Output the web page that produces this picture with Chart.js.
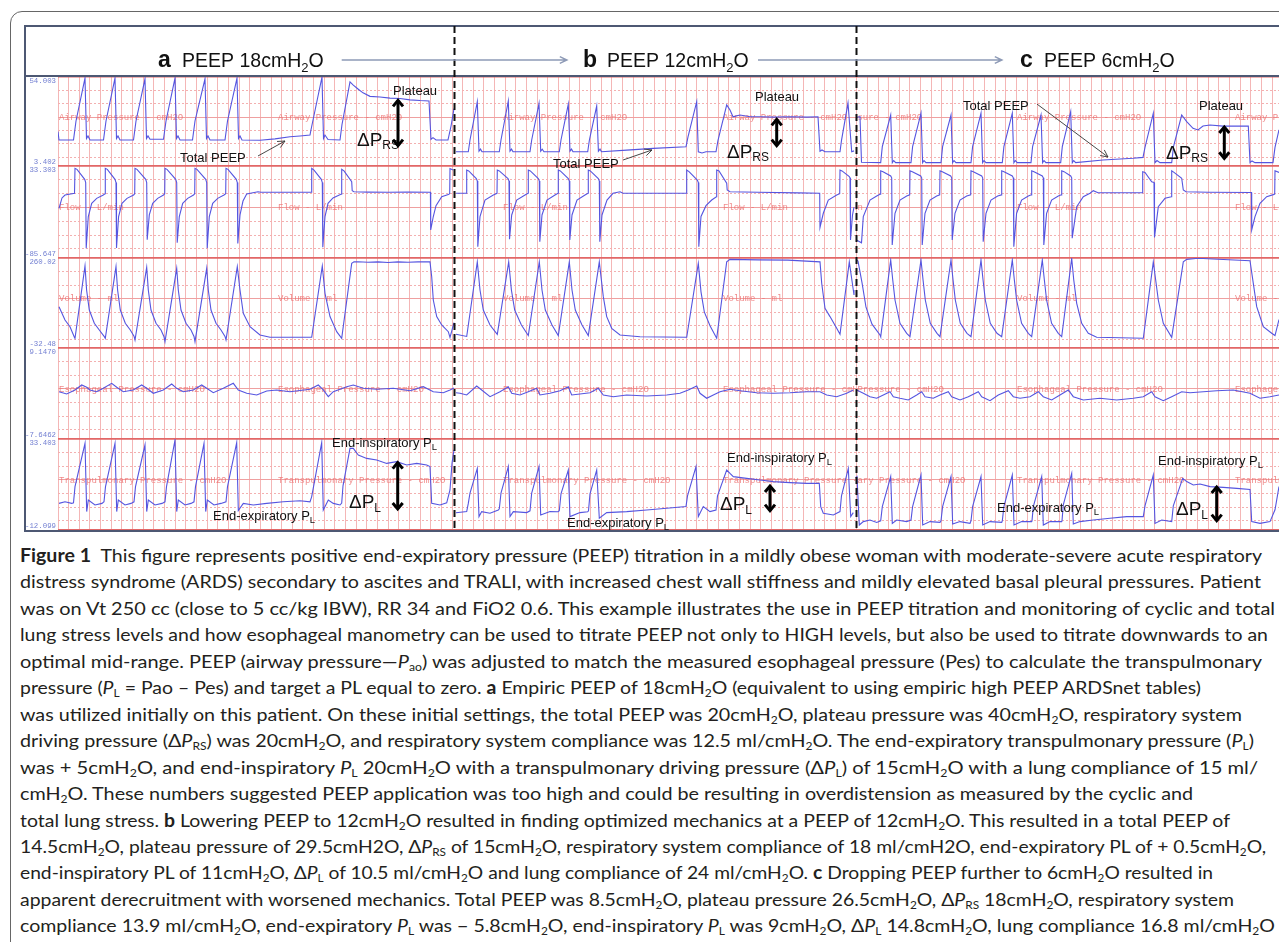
<!DOCTYPE html>
<html>
<head>
<meta charset="utf-8">
<script src="https://cdn.jsdelivr.net/npm/chart.js@4.4.1/dist/chart.umd.min.js"></script>
<style>
  body { margin: 0; background: #fff; }
  #wrap { position: relative; width: 1279px; height: 942px; overflow: hidden; }
  #frame { position: absolute; left: 10px; top: 11px; width: 1320px; height: 980px;
           border: 1.5px solid #666; border-radius: 12px; box-sizing: border-box; }
  #chart { position: absolute; left: 0; top: 0; }
  .cap { position: absolute; left: 20px; white-space: nowrap; font-family: Lato, "Noto Sans", sans-serif;
         font-size: 18px; line-height: 26px; color: #231f20; transform-origin: 0 50%; }
  .cap sub { font-size: 11px; vertical-align: -3px; line-height: 0; }
</style>
</head>
<body>
<div id="wrap">
  <div id="frame"></div>
  <canvas id="chart" width="1279" height="540"></canvas>
</div>
<script>
// ---- axis ranges and tick labels (as printed on the recorder strips) ----
const stripIds = ['yAw', 'yFlow', 'yVol', 'yEso', 'yPtp'];
const stripMax = [54.003, 33.303, 260.02, 9.147, 33.403];
const stripMin = [3.402, -85.647, -32.48, -7.6462, -12.099];
const stripTopLabels = ['54.003', '33.303', '260.02', '9.1470', '33.403'];
const stripBottomLabels = ['3.402', '-85.647', '-32.48', '-7.6462', '-12.099'];
const channelNames = ['Airway Pressure - cmH2O', 'Flow - L/min', 'Volume - ml',
                      'Esophageal Pressure - cmH2O', 'Transpulmonary Pressure - cmH2O'];
const panelTitles = [['a', 'PEEP 18cmH', '2', 'O'], ['b', 'PEEP 12cmH', '2', 'O'], ['c', 'PEEP 6cmH', '2', 'O']];

// ---- waveforms, [time (samples), value] ----
const airwayA = [[0,23],[1,18.2],[15.5,18.2],[18,29],[27,53.4],[28.5,19],[30,20.5],[32,18.2],
  [45.5,18.2],[48,29],[57,53.4],[58.5,19],[60,20.5],[62,18.2],
  [75.5,18.2],[78,29],[87,53],[88.5,19],[90,20.5],[92,18.6],
  [105.5,18.6],[108,29],[117,53.4],[118.5,19],[120,20.5],[122,18.2],
  [134.5,18.2],[137,29],[147,53],[148.5,19],[150,20.5],[152,18.2],
  [167,18.2],[169.5,29],[179,53.4],[180.5,19],[182,20.5],[184,18.2],
  [202,18],[217,18.8],[232,20],[242,20.5],[252,21],
  [253,24],[264,54],[265.5,19],[267,21],[270,18.5],[282,18.2],
  [284,27],[292,51.2],[295,49.5],[300,47.2],[305,45],[312,43],[322,42.6],[332,42],[342,41.8],[352,41],
  [362,40.6],[371,40.4],[373,18.5],[375,19.5],[378,18.2],[390,18.2],[393,26],[396,36]];
const airwayB = [[398,11.5],[410.3,11.5],[412,18.2],[419.3,40],[421,11.8],[422.5,13],[424,11.5],
  [441.3,11.5],[443,18.2],[450.3,40.4],[452,11.8],[453.5,13],[455,11.5],
  [472,11.5],[473.7,18.2],[481,39],[482.7,11.8],[484.2,13],[486,11.5],
  [501.3,11.5],[503,18.2],[510.3,38.6],[512,11.8],[513.5,13],[515,11.5],
  [529.7,11.5],[531.4,18.2],[538.7,37.5],[540.4,11.8],[542,13],[543.5,11.5],
  [568.7,12.4],[595.3,13.4],[628,14.3],
  [630,20],[638.7,40],[640.3,11.5],[644,10.8],[648,11.5],[658,11.5],
  [660,18],[668.7,38.1],[672,35.2],[675,31.4],[682,32.4],[692,31.4],[702,31.4],[715,31.2],[732,31.4],
  [749,31.2],[760,31.4],[762,11.8],[764,12.5],[767,11.5],[782,11.5],
  [783.5,18],[790,39.2],[793.7,11.5],[796,12]];
const airwayC = [[798,31],[802,31.5],[803.5,5.5],[822.7,5.3],[824.3,14.4],[832.7,32.4],[834.3,5.3],[835.7,6.5],[837.7,5.3],
  [853,5.3],[854.6,14.4],[863,33.4],[864.6,5.3],[866,6.5],[868,5.3],
  [883,5.3],[884.6,14.4],[893,32.4],[894.6,5.3],[896,6.5],[898,5.3],
  [913,5.3],[914.6,14.4],[923,33.4],[924.6,5.3],[926,6.5],[928,5.3],
  [944.3,5.3],[945.9,14.4],[954.3,33.4],[955.9,5.3],[957.3,6.5],[959.3,5.3],
  [973,5.3],[974.6,14.4],[983,32.4],[984.6,5.3],[986,6.5],[988,5.3],
  [1002.7,5.3],[1004.3,14.4],[1012.7,34.3],[1014.3,5.3],[1015.7,6.5],[1017.7,5.3],
  [1045,6.8],[1075,7.8],[1085,8.3],
  [1087,14],[1095.3,33.4],[1097,5.3],[1099,6.5],[1102,5.3],[1113.7,5.3],
  [1115.5,14.4],[1123.7,32.4],[1128.7,28.6],[1135,24.8],[1140,23.9],[1145,26.1],[1152,26.7],[1165,26.1],
  [1178.7,26.1],[1190.3,26.1],[1192,5.3],[1194,6.3],[1197,5.3],[1215,5.3],[1217,14],[1221,24]];

const flowA = [[1,-21.4],[4,-8],[7,-4.2],[16.5,-2],
  [17,30.3],[19,29],[26.7,16],[27.7,12],[28.2,-73],[30.3,-32],[33.7,-15],[38.7,-8.5],[45.3,-4.2],[47,-2.5],
  [47.3,30.3],[49.3,29],[57,16],[58,12],[58.5,-72.7],[60.6,-32],[64,-15],[69,-8.5],[75.6,-4.2],[76.7,-2.5],
  [77,30.3],[79,29],[87.7,16],[88.7,12],[89.2,-62],[91.3,-30],[94.7,-15],[99.7,-8.5],[105.5,-4.2],[106.7,-2.5],
  [107,30.3],[109,29],[117.7,16],[118.7,12],[119.2,-66],[121.3,-32],[124.7,-15],[129.7,-8.5],[135.5,-4.2],[136.7,-2.5],
  [137,30.3],[139,29],[147.7,16],[148.7,12],[149.2,-73],[151.3,-32],[154.7,-15],[159.7,-8.5],[166,-4.2],[167.7,-2.5],
  [168,30.3],[170,29],[178.3,16],[179.3,12],[179.8,-67],[182,-30],[185,-12],[188.7,-3],[200,0],[203,-0.7],[253.4,-0.7],
  [253.7,30.3],[256,28],[263.3,16],[264.3,12],[264.8,-71.8],[267,-32],[270,-15],[275,-8],[283.4,-3],
  [283.7,29],[286,27],[293.7,13],[294.2,1.4],[296,0],[310,-0.5],[330,-0.7],[350,-0.5],[372.4,-0.7],
  [372.7,-49.4],[375.3,-32],[378,-18],[383.7,-6.4],[390.3,-3.7],[391.7,-2.5],[392,30],[395,28]];
const flowB = [[398,-2],[408.4,-2],
  [408.7,28.1],[410.7,27],[418.3,17],[419.3,14],[419.8,-71],[422,-32],[427,-10.7],[435.3,-4.2],[439,-2],
  [439.3,28.1],[441.3,27],[450,17],[451,14],[451.5,-61.5],[453.7,-30],[458.7,-10.7],[467,-4.2],[470,-2],
  [470.3,28.1],[472.3,27],[480.3,17],[481.3,14],[481.8,-64.5],[484,-30],[489,-10.7],[497,-4.2],[500,-2],
  [500.3,28.1],[502.3,27],[510.3,17],[511.3,14],[511.8,-62.4],[514,-30],[519,-10.7],[527,-4.2],[530,-2],
  [530.3,28.1],[532.3,27],[540.3,17],[541.3,14],[541.8,-64.5],[544,-30],[549,-10.7],[555,-2],[562,0],[565,-2],[628.4,-2],
  [628.7,28.1],[631,26],[639.3,15],[640.3,12],[640.8,-71],[643,-32],[648,-18],[653.7,-10.7],[658.4,-6.4],
  [658.7,28.1],[661,27],[668.7,11],[669.2,2.3],[672,0],[700,-0.7],[740,-1.5],[761.7,-2],
  [762,-46],[765.3,-27.8],[770.3,-10.7],[778.7,-4.2],[781.7,-2.5],
  [782,28.1],[784,27],[791.3,19.5],[792,18],[792.5,-62.4],[794.5,-30],[796,-20]];
const flowC = [[798,-62],[803.5,-66],[805.3,-32],[812,-10.7],[818.7,-5.5],[822.4,-3],
  [822.7,27.2],[825,26],[832.7,20.4],[833.7,18],[834.2,-68.8],[837,-27.8],[842,-10.7],[848.7,-5.5],[851.7,-4],
  [852,27.2],[854.3,26],[862.7,20.4],[863.7,18],[864.2,-68.8],[867,-27.8],[872,-10.7],[878.7,-5.5],[881.7,-4],
  [882,27.2],[884.3,26],[892.7,20.4],[893.7,18],[894.2,-62.4],[897,-27.8],[902,-10.7],[908.7,-5.5],[912.7,-4],
  [913,27.2],[915.3,26],[923.7,20.4],[924.7,18],[925.2,-64.5],[928,-27.8],[933,-10.7],[939.7,-5.5],[943.4,-4],
  [943.7,27.2],[946,26],[954.3,20.4],[955.3,18],[955.8,-71],[958.6,-27.8],[963.6,-10.7],[970.3,-5.5],[973.4,-4],
  [973.7,27.2],[976,26],[984.3,20.4],[985.3,18],[985.8,-68.8],[988.6,-27.8],[993.6,-10.7],[1000.3,-5.5],[1003.4,-4],
  [1003.7,27.2],[1006,26],[1012.7,20.4],[1013.7,18],[1014.2,-60],[1018.7,-19.3],[1025.3,-6.4],[1032,-2],[1035.3,1.4],[1040,-1.2],[1084.4,-1.2],
  [1084.7,25.9],[1087,25],[1093.7,13],[1096,12],[1096.5,-59],[1100.3,-19.3],[1107,-8.5],[1113.4,-6.4],
  [1113.7,27.2],[1116,25],[1123.7,17.4],[1125.3,2.3],[1128,0],[1150,-0.7],[1193.4,-1],
  [1193.7,-49.4],[1197,-32.2],[1202,-14.9],[1208.7,-6.4],[1215.3,-3.7],[1216.7,-3],[1217,27.2],[1221,25]];

const volumeA = [[1,101.8],[7,58.5],[12,36.8],[16.5,2],[17,-1],
  [27,234],[28.6,156],[31.3,91],[36.3,47.8],[41.3,26],[46.3,4.3],[47.3,-1],
  [58,231.8],[59.6,156],[62.3,91],[67.3,47.8],[72.3,26],[76,6],[77,-6.5],
  [88.7,229.8],[90.3,156],[93,91],[98,47.8],[103,26],[106,4],[107,-12],
  [118.7,226.5],[120.3,156],[123,91],[128,47.8],[133,26],[136,5],[137,-12],
  [148.7,226.5],[150.3,156],[153,91],[158,47.8],[163,26],[167,5],[168,-6.5],
  [179.3,231.8],[182,156],[185.3,80.3],[192,36.8],[202,9.8],[212,2.3],[253.7,2.3],
  [264.3,234],[267,145.3],[272,69.6],[278.7,20.5],[283.7,-1],
  [293.7,242.7],[296,247.5],[300,248],[310,246],[320,247.5],[330,245.5],[340,247.5],[350,246],[360,247.5],[372,247.5],
  [373.7,199],[375.3,123.5],[378.7,69.6],[383.7,42.3],[390.3,20.5],[392,2],[396,50]];
const volumeB = [[398,12],[408.7,5],
  [419.3,247.5],[422,156],[425.3,91],[432,42.3],[439.3,12],
  [450.7,247.5],[453.4,156],[456.7,91],[463.4,42.3],[470.3,8],
  [481.3,247.5],[484,156],[487.3,91],[494,42.3],[500.3,8],
  [511.3,247.5],[514,156],[517.3,91],[524,42.3],[530.3,8],
  [541.3,247.5],[545.3,134.3],[548.7,69.6],[553.7,31.5],[562,9.8],[582,4.3],[628.7,2.3],
  [640.3,242.7],[643,150],[646.3,85],[652,40],[658.7,-1],
  [668.7,247.5],[672,255.7],[700,254],[730,253],[762,247.5],
  [763.7,177.8],[767,96.5],[772,69.6],[778.7,31.5],[782,12],
  [791.3,247.5],[795.3,156],[796,140]];
const volumeC = [[798,255],[800,250],[804,180],[808,100],[814,45],[822,10],[822.7,4.3],
  [832.7,253.5],[834.7,190],[837,123.5],[842,47.8],[848.7,15.3],[852,4.3],
  [863,253.5],[865,190],[867.3,123.5],[872.3,47.8],[879,15.3],[882,4.3],
  [893,253.5],[895,190],[897.3,123.5],[902.3,47.8],[909,15.3],[913,4.3],
  [923,253.5],[925,190],[927.3,123.5],[932.3,47.8],[939,15.3],[943.7,4.3],
  [954.3,253.5],[956.3,190],[958.6,123.5],[963.6,47.8],[970.3,15.3],[973.7,4.3],
  [984.3,253.5],[986.3,190],[988.6,123.5],[993.6,47.8],[1000.3,15.3],[1003.7,4.3],
  [1013.7,259],[1015.7,190],[1018.7,112.8],[1023.7,47.8],[1030.3,15.3],[1038.7,2.3],[1085.3,-1],
  [1095.3,247.5],[1100.3,123.5],[1105.3,47.8],[1113.7,2.3],
  [1125.3,247.5],[1128.7,255.7],[1140,259],[1160,256],[1192,251],
  [1195.3,177.8],[1198.7,101.8],[1205.3,36.8],[1213.7,15.3],[1217,8],[1221,60]];

const esoA = [[1,1.08],[8.7,0.66],[17,1.4],[23.7,2.32],[28.7,1.9],[32,1.4],[38.7,1.08],[45.3,1.71],[53.7,2.63],
  [58.7,1.9],[65.3,1.08],[75.3,1.4],[83.7,2.32],[88.7,1.71],[95.3,0.79],[105.3,1.4],[113.7,2.5],[118.7,1.71],
  [125.3,1.08],[135.3,1.4],[143.7,2.32],[148.7,1.71],[155.3,0.9],[165.3,1.71],[175.3,2.63],[180.3,1.4],[188.7,0.79],
  [198.7,0.48],[208.7,1.21],[218.7,1.4],[232,1.08],[252,1.53],[260.3,2.32],[265.3,1.4],[270.3,0.16],[275.3,1.08],
  [288.7,2.01],[295.3,2.32],[305.3,1.71],[318.7,1.53],[335.3,1.71],[352,1.27],[365.3,2.01],[375.3,1.08],[385.3,0.9],
  [392,1.4],[396,1.77]];
const esoB = [[398,0.9],[402,0.79],[408.7,0.48],[418.7,2.14],[423.7,1.4],[432,0.16],[442,1.08],[450.3,2.01],[453.7,0.79],
  [462,0.48],[470.3,1.08],[478.7,1.71],[482,0.48],[492,0.79],[502,1.27],[510.3,2.01],[513.7,0.48],[522,0.66],[532,0.9],
  [540.3,1.71],[545.3,0.48],[555.3,0.16],[568.7,0.48],[588.7,0.29],[608.7,0.48],[622,0.79],[630.3,1.4],[638.7,2.14],
  [642,0.79],[648.7,-0.13],[655.3,0.48],[662,1.08],[672,1.53],[682,1.27],[698.7,0.9],[715.3,0.79],[732,0.9],
  [748.7,1.08],[762,1.08],[768.7,0.48],[778.7,0.16],[788.7,0.79],[795.3,1.4]];
const esoC = [[798.7,1.4],[805.3,0.79],[812,0.16],[818.7,-0.13],[825.3,0.48],[832,1.08],[835.3,0.16],[842,-0.13],
  [850.3,-0.45],[858.7,0.48],[863.7,1.08],[867,0.16],[875.3,-0.13],[882,0.48],[890.3,1.08],[893.7,0.16],[902,-0.45],
  [910.3,0.16],[920.3,1.08],[923.7,0.16],[932,-0.58],[940.3,0.48],[950.3,1.27],[955.3,0.16],[962,-0.13],[972,0.16],
  [980.3,1.08],[985.3,0.16],[993.7,-0.45],[1002,0.48],[1010.3,1.4],[1015.3,0.16],[1025.3,-0.45],[1042,-0.13],
  [1058.7,-0.45],[1075.3,-0.13],[1085.3,0.16],[1093.7,1.08],[1097,0.16],[1105.3,-0.58],[1113.7,0.16],[1123.7,1.08],
  [1132,0.9],[1145.3,1.08],[1158.7,1.27],[1175.3,1.4],[1192,0.79],[1202,-0.13],[1212,0.16],[1221,0.48]];

const ptpA = [[1,1.2],[7,2],[13.7,1.2],[15.5,1.5],[17,9.6],[27,31.2],[28.7,-2.9],[30.3,2.9],[37,0.4],[44,1.2],[46,2],
  [47.5,9.6],[57,31.2],[58.7,-2.9],[60.3,2.9],[67,0.4],[73,1.2],[76,2],
  [77.5,9.6],[87,30.4],[88.7,-2.9],[90.3,2.9],[97,0.4],[104,1.2],[107,2],
  [108.5,9.6],[117,32.9],[118.7,-2.9],[120.3,2.9],[127,0.4],[133,1.2],[136,2],
  [137.5,9.6],[146,31.2],[147.7,-2.9],[149.3,2.9],[156,0.4],[163,1.2],[168,2],
  [169.5,9.6],[178.7,31.6],[180.3,-2.4],[185.3,1.2],[195.3,0.4],[208.7,1.2],[225.3,2],[242,2.5],[252,2],
  [253.7,4.6],[263.7,31.6],[265.3,-2.1],[270.3,2.9],[275.3,1.2],[282,0.4],
  [283.7,1.4],[285,10],[292,28.7],[295.3,28.7],[300.3,25.4],[308.7,23.7],[318.7,22.9],[328.7,21.2],[338.7,22.1],
  [348.7,20.4],[358.7,21.2],[368.7,20.4],[372,19.6],[373.7,1.2],[382,0.4],[388.7,1.5],[392,7.9],[394,21.2],[396,28]];
const ptpB = [[398,-3.5],[408.7,-2.9],[410.3,1.2],[412,6.4],[419.3,18.7],[421,-5.4],[423.7,-2.9],[432,-3.7],[440.3,-2.1],
  [441.3,-1.5],[443,6.4],[450.3,19.6],[452,-5.4],[455.3,-2.9],[468.7,-3.4],
  [472,-2.5],[473.7,6.4],[481,19.6],[482.7,-4.6],[492,-2.9],[500,-3],
  [501.3,-2.5],[503,6],[510.3,17.9],[512,-5.4],[522,-3.4],[529.7,-3],
  [530.5,-2.5],[532,6],[538.7,17.9],[541.3,-6.2],[548.7,-3.4],[568.7,-2.9],[588.7,-2.1],[608.7,-1.2],[628,-0.4],
  [629.5,5],[638,19.6],[640.3,-5.4],[645.3,-0.4],[652,-2.9],[658,-2.1],
  [659.5,5],[668.7,17.9],[672,16.2],[675.3,14.6],[688.7,13.7],[702,12.9],[715.3,12.1],[732,11.6],[748.7,11.2],
  [761.3,11.2],[762.7,-0.4],[765.3,-3.7],[775.3,-4.6],[782,-2.9],
  [783.5,5],[790.3,18.7],[792.7,-5.4],[795.3,-3.4]];
const ptpC = [[797.5,14],[799,14.6],[801.3,-9.6],[805.3,-7.9],[812,-7.1],[818.7,-8.3],[822.7,-7.5],
  [824.3,-0.4],[832.7,14.6],[834.3,-8.8],[838.7,-7.1],[848.7,-7.9],[853,-7.1],
  [854.6,-0.4],[863,15.4],[864.7,-9.6],[872,-7.9],[882,-8.3],[883,-7.5],
  [884.6,-0.4],[893,14.6],[894.7,-9.1],[902,-7.9],[912,-8.8],[913,-7.5],
  [914.6,-0.4],[923,14.6],[924.7,-9.6],[932,-7.9],[943.7,-8.3],[944.3,-7.5],
  [945.9,-0.4],[954.3,15.4],[956,-9.6],[963.7,-7.9],[973.7,-7.9],[974,-7.5],
  [975.3,-0.4],[983.7,14.6],[985.3,-9.6],[992,-7.9],[1003.7,-7.9],[1004,-7.5],
  [1005.3,0.5],[1013.7,16.2],[1015.3,-9.1],[1022,-7.9],[1035.3,-7.1],[1052,-6.2],[1068.7,-5.4],[1085.3,-5.4],
  [1087,0],[1095.3,15.4],[1097,-8.8],[1103.7,-7.1],[1113.7,-7.9],
  [1115.3,0],[1124.7,13.7],[1128.7,12.1],[1135.3,10.4],[1142,10.9],[1152,9.6],[1165.3,9.2],[1178.7,8.7],[1192,8.2],
  [1193.7,-7.9],[1202,-8.8],[1212,-7.9],[1217,-2],[1221,9.6]];

// ---- layout helpers ----
const gridFractions = [0, 0.15, 0.30, 0.45, 0.60, 0.75, 0.90, 1];
const gridStep = 10.65;
const panels = [
  { from: 0, to: 396, labelsAt: [1, 220] },
  { from: 396, to: 797.5, labelsAt: [445, 665] },
  { from: 797.5, to: 1221, labelsAt: [740, 959, 1177] }
];
const traceColor = '#5555e0';

function trace(points, axis) {
  return {
    data: points.map(p => ({ x: p[0], y: p[1] })),
    yAxisID: axis, borderColor: traceColor, borderWidth: 1.1,
    pointRadius: 0, tension: 0, fill: false
  };
}

function yScale(i) {
  const min = stripMin[i], max = stripMax[i];
  return {
    type: 'linear', position: 'left', stack: 'strips', stackWeight: [89, 92, 90, 91, 91][i],
    weight: 5 - i, min, max,
    afterBuildTicks: s => { s.ticks = gridFractions.map(f => ({ value: max - f * (max - min) })); },
    afterFit: s => { s.width = 33; },
    ticks: { display: false },
    grid: {
      drawTicks: false,
      color: c => (c.index === 0 || c.index === 7) ? '#e26767' : (c.index === 3 ? '#efa0a0' : '#f3b0b0'),
      lineWidth: c => (c.index === 0 || c.index === 7) ? 1.5 : 1
    },
    border: { display: false, dash: c => (c.index === 0 || c.index === 3 || c.index === 7) ? [] : [2, 2] }
  };
}

function rich(ctx, x, y, parts) {
  let cx = x;
  for (const [text, font, dy] of parts) {
    ctx.font = font;
    ctx.fillText(text, cx, y + (dy || 0));
    cx += ctx.measureText(text).width;
  }
  return cx;
}
function arrowLine(ctx, x1, y1, x2, y2, head) {
  const a = Math.atan2(y2 - y1, x2 - x1);
  ctx.beginPath();
  ctx.moveTo(x1, y1); ctx.lineTo(x2, y2);
  ctx.moveTo(x2 - head * Math.cos(a - 0.45), y2 - head * Math.sin(a - 0.45));
  ctx.lineTo(x2, y2);
  ctx.lineTo(x2 - head * Math.cos(a + 0.45), y2 - head * Math.sin(a + 0.45));
  ctx.stroke();
}
function dblArrow(ctx, x, y1, y2) {
  ctx.save();
  ctx.strokeStyle = '#000'; ctx.lineWidth = 3; ctx.lineJoin = 'miter';
  ctx.beginPath(); ctx.moveTo(x, y1 + 1); ctx.lineTo(x, y2 - 1); ctx.stroke();
  ctx.beginPath(); ctx.moveTo(x - 5, y1 + 7); ctx.lineTo(x, y1 + 1); ctx.lineTo(x + 5, y1 + 7); ctx.stroke();
  ctx.beginPath(); ctx.moveTo(x - 5, y2 - 7); ctx.lineTo(x, y2 - 1); ctx.lineTo(x + 5, y2 - 7); ctx.stroke();
  ctx.restore();
}

const SANS = '"Liberation Sans", Arial, sans-serif';
const small = '13px ' + SANS, tiny = '9.5px ' + SANS, big = '19px ' + SANS, mid = '12px ' + SANS;
// annotation anchors: [axis, time, value, rich-text parts]
const notes = [
  ['yAw', 335, 43.8, [['Plateau', small]]],
  ['yAw', 697, 40.1, [['Plateau', small]]],
  ['yAw', 1141, 35.2, [['Plateau', small]]],
  ['yAw', 122, 5.7, [['Total PEEP', small]]],
  ['yAw', 495, 2.1, [['Total PEEP', small]]],
  ['yAw', 905, 35.2, [['Total PEEP', small]]],
  ['yAw', 299, 14.5, [['ΔP', big], ['RS', mid, 3]]],
  ['yAw', 669, 7.9, [['ΔP', big], ['RS', mid, 3]]],
  ['yAw', 1108, 7.4, [['ΔP', big], ['RS', mid, 3]]],
  ['yPtp', 274, 29.2, [['End-inspiratory P', small], ['L', tiny, 3]]],
  ['yPtp', 669, 22.1, [['End-inspiratory P', small], ['L', tiny, 3]]],
  ['yPtp', 1100, 20.4, [['End-inspiratory P', small], ['L', tiny, 3]]],
  ['yPtp', 155, -7.1, [['End-expiratory P', small], ['L', tiny, 3]]],
  ['yPtp', 509, -10.7, [['End-expiratory P', small], ['L', tiny, 3]]],
  ['yPtp', 939, -2.9, [['End-expiratory P', small], ['L', tiny, 3]]],
  ['yPtp', 291, -1.1, [['ΔP', big], ['L', mid, 4]]],
  ['yPtp', 662, -2.1, [['ΔP', big], ['L', mid, 4]]],
  ['yPtp', 1118, -4.6, [['ΔP', big], ['L', mid, 4]]]
];
const dblArrows = [['yAw', 340, 41.3, 14.4], ['yAw', 718.7, 30.5, 14.4], ['yAw', 1166.3, 26.1, 7.2],
                   ['yPtp', 339.7, 22.1, -2.1], ['yPtp', 712, 10.4, -2.9], ['yPtp', 1158.7, 9.9, -7.9]];
const peepArrows = [[200, 9.1, 227, 17.6], [565, 6.8, 594, 12.5], [979, 38.6, 1050, 8.5]];

const decor = {
  id: 'decor',
  beforeDatasetsDraw(chart) {
    const { ctx, scales } = chart, x = scales.x;
    ctx.save();
    ctx.font = '9px "Liberation Mono", "DejaVu Sans Mono", monospace';
    ctx.fillStyle = 'rgba(236,110,110,0.8)';
    ctx.textBaseline = 'middle';
    stripIds.forEach((id, i) => {
      const s = scales[id];
      const y = s.getPixelForValue(s.ticks[3].value);
      panels.forEach(p => {
        const x0 = x.getPixelForValue(p.from), x1 = x.getPixelForValue(p.to);
        ctx.save();
        ctx.beginPath(); ctx.rect(x0, s.top, x1 - x0, s.bottom - s.top); ctx.clip();
        p.labelsAt.forEach(t => ctx.fillText(channelNames[i], x.getPixelForValue(t), y + 0.5));
        ctx.restore();
      });
    });
    ctx.restore();
  },
  afterDatasetsDraw(chart) {
    const { ctx, scales } = chart, x = scales.x;
    ctx.save();
    ctx.fillStyle = '#111';
    ctx.textBaseline = 'alphabetic';
    notes.forEach(([ax, t, v, parts]) => rich(ctx, x.getPixelForValue(t), scales[ax].getPixelForValue(v), parts));
    dblArrows.forEach(([ax, t, v1, v2]) =>
      dblArrow(ctx, x.getPixelForValue(t), scales[ax].getPixelForValue(v1), scales[ax].getPixelForValue(v2)));
    ctx.strokeStyle = '#333'; ctx.lineWidth = 0.9;
    peepArrows.forEach(([t1, v1, t2, v2]) => arrowLine(ctx,
      x.getPixelForValue(t1), scales.yAw.getPixelForValue(v1),
      x.getPixelForValue(t2), scales.yAw.getPixelForValue(v2), 8));
    ctx.restore();
  },
  afterDraw(chart) {
    const { ctx, scales, chartArea } = chart, x = scales.x;
    const left = chartArea.left - 33, top = 26, bottom = chartArea.bottom + 1, right = chart.width + 5;
    ctx.save();
    // strip range labels
    ctx.font = '7.4px "Liberation Mono", "DejaVu Sans Mono", monospace';
    ctx.fillStyle = '#7480d2';
    ctx.textAlign = 'right'; ctx.textBaseline = 'middle';
    stripIds.forEach((id, i) => {
      const s = scales[id];
      ctx.fillText(stripTopLabels[i], chartArea.left - 2, s.top + 4.5);
      ctx.fillText(stripBottomLabels[i], chartArea.left - 2, s.bottom - 3.5);
    });
    // box
    ctx.strokeStyle = '#4d5873'; ctx.lineWidth = 2;
    ctx.beginPath();
    ctx.moveTo(right, top); ctx.lineTo(left, top); ctx.lineTo(left, bottom); ctx.lineTo(right, bottom);
    ctx.moveTo(left, chartArea.top - 1); ctx.lineTo(right, chartArea.top - 1);
    ctx.stroke();
    // panel separators
    ctx.strokeStyle = '#111'; ctx.lineWidth = 2; ctx.setLineDash([7, 4]);
    [panels[1].from, panels[2].from].forEach(t => {
      const px = Math.round(x.getPixelForValue(t)) + 0.5;
      ctx.beginPath(); ctx.moveTo(px, top); ctx.lineTo(px, bottom); ctx.stroke();
    });
    ctx.setLineDash([]);
    // header titles and arrows
    ctx.textAlign = 'left'; ctx.textBaseline = 'alphabetic'; ctx.fillStyle = '#111';
    const titleAt = [100, 525, 962];
    panelTitles.forEach((pt, i) => {
      const x0 = x.getPixelForValue(titleAt[i]);
      rich(ctx, x0, 67, [[pt[0], 'bold 23px ' + SANS]]);
      rich(ctx, x0 + 24, 67, [[pt[1], '19.5px ' + SANS], [pt[2], '13px ' + SANS, 5], [pt[3], '19.5px ' + SANS]]);
    });
    ctx.strokeStyle = '#8d9ab6'; ctx.lineWidth = 1.4;
    [[283.7, 509], [700, 944]].forEach(([a, b]) =>
      arrowLine(ctx, x.getPixelForValue(a), 60, x.getPixelForValue(b), 60, 8));
    ctx.restore();
  }
};

const scales = {
  x: {
    type: 'linear', min: 0, max: 1221,
    afterBuildTicks: s => { const t = []; for (let v = 0; v <= 1221; v += gridStep) t.push({ value: v }); s.ticks = t; },
    afterFit: s => { s.height = 0; },
    ticks: { display: false },
    grid: { drawTicks: false, color: '#f4b6b6', lineWidth: 1 },
    border: { display: false }
  }
};
stripIds.forEach((id, i) => { scales[id] = yScale(i); });

new Chart(document.getElementById('chart'), {
  type: 'line',
  data: {
    datasets: [
      trace(airwayA, 'yAw'), trace(airwayB, 'yAw'), trace(airwayC, 'yAw'),
      trace(flowA, 'yFlow'), trace(flowB, 'yFlow'), trace(flowC, 'yFlow'),
      trace(volumeA, 'yVol'), trace(volumeB, 'yVol'), trace(volumeC, 'yVol'),
      trace(esoA, 'yEso'), trace(esoB, 'yEso'), trace(esoC, 'yEso'),
      trace(ptpA, 'yPtp'), trace(ptpB, 'yPtp'), trace(ptpC, 'yPtp')
    ]
  },
  options: {
    responsive: false, animation: false, devicePixelRatio: 1,
    layout: { padding: { left: 25, top: 77, right: 0, bottom: 10 } },
    plugins: { legend: { display: false }, tooltip: { enabled: false } },
    events: [],
    scales
  },
  plugins: [decor]
});

// ---- caption ----
const capLines = [
  '<b>Figure 1</b>&nbsp; This figure represents positive end-expiratory pressure (PEEP) titration in a mildly obese woman with moderate-severe acute respiratory',
  'distress syndrome (ARDS) secondary to ascites and TRALI, with increased chest wall stiffness and mildly elevated basal pleural pressures. Patient',
  'was on Vt 250 cc (close to 5 cc/kg IBW), RR 34 and FiO2 0.6. This example illustrates the use in PEEP titration and monitoring of cyclic and total',
  'lung stress levels and how esophageal manometry can be used to titrate PEEP not only to HIGH levels, but also be used to titrate downwards to an',
  'optimal mid-range. PEEP (airway pressure—<i>P</i><sub>ao</sub>) was adjusted to match the measured esophageal pressure (Pes) to calculate the transpulmonary',
  'pressure (<i>P</i><sub>L</sub> = Pao – Pes) and target a PL equal to zero. <b>a</b> Empiric PEEP of 18cmH<sub>2</sub>O (equivalent to using empiric high PEEP ARDSnet tables)',
  'was utilized initially on this patient. On these initial settings, the total PEEP was 20cmH<sub>2</sub>O, plateau pressure was 40cmH<sub>2</sub>O, respiratory system',
  'driving pressure (Δ<i>P</i><sub>RS</sub>) was 20cmH<sub>2</sub>O, and respiratory system compliance was 12.5 ml/cmH<sub>2</sub>O. The end-expiratory transpulmonary pressure (<i>P</i><sub>L</sub>)',
  'was + 5cmH<sub>2</sub>O, and end-inspiratory <i>P</i><sub>L</sub> 20cmH<sub>2</sub>O with a transpulmonary driving pressure (Δ<i>P</i><sub>L</sub>) of 15cmH<sub>2</sub>O with a lung compliance of 15 ml/',
  'cmH<sub>2</sub>O. These numbers suggested PEEP application was too high and could be resulting in overdistension as measured by the cyclic and',
  'total lung stress. <b>b</b> Lowering PEEP to 12cmH<sub>2</sub>O resulted in finding optimized mechanics at a PEEP of 12cmH<sub>2</sub>O. This resulted in a total PEEP of',
  '14.5cmH<sub>2</sub>O, plateau pressure of 29.5cmH2O, Δ<i>P</i><sub>RS</sub> of 15cmH<sub>2</sub>O, respiratory system compliance of 18 ml/cmH2O, end-expiratory PL of + 0.5cmH<sub>2</sub>O,',
  'end-inspiratory PL of 11cmH<sub>2</sub>O, Δ<i>P</i><sub>L</sub> of 10.5 ml/cmH<sub>2</sub>O and lung compliance of 24 ml/cmH<sub>2</sub>O. <b>c</b> Dropping PEEP further to 6cmH<sub>2</sub>O resulted in',
  'apparent derecruitment with worsened mechanics. Total PEEP was 8.5cmH<sub>2</sub>O, plateau pressure 26.5cmH<sub>2</sub>O, Δ<i>P</i><sub>RS</sub> 18cmH<sub>2</sub>O, respiratory system',
  'compliance 13.9 ml/cmH<sub>2</sub>O, end-expiratory <i>P</i><sub>L</sub> was − 5.8cmH<sub>2</sub>O, end-inspiratory <i>P</i><sub>L</sub> was 9cmH<sub>2</sub>O, Δ<i>P</i><sub>L</sub> 14.8cmH<sub>2</sub>O, lung compliance 16.8 ml/cmH<sub>2</sub>O'
];
const capRight = [1262, 1261, 1275, 1268, 1262, 1201, 1242, 1254, 1258, 1193, 1230, 1266, 1213, 1234, 1275];
const wrap = document.getElementById('wrap');
capLines.forEach((html, i) => {
  const d = document.createElement('div');
  d.className = 'cap';
  d.innerHTML = html;
  d.style.top = (555 + i * 26.45 - 13) + 'px';
  wrap.appendChild(d);
  const w = d.getBoundingClientRect().width;
  d.style.transform = 'scaleX(' + ((capRight[i] - 20) / w).toFixed(4) + ')';
});
</script>
</body>
</html>
